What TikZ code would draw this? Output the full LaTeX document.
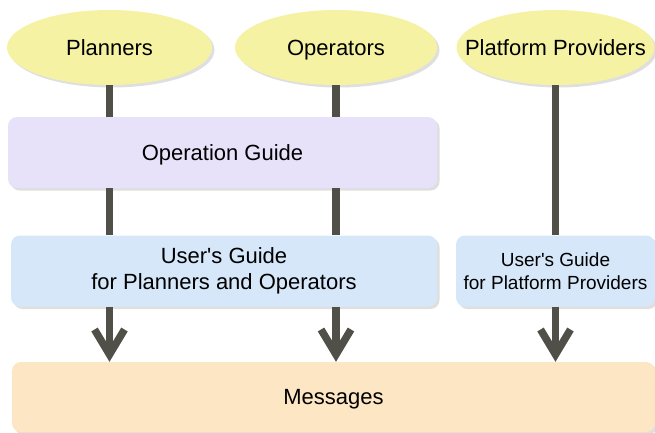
\documentclass[tikz,border=0pt]{standalone}
\usepackage{fontspec}
\setmainfont{Liberation Sans}[Ligatures=TeXOff]
\usetikzlibrary{shapes.geometric,shadows,arrows.meta}
\definecolor{ellfill}{RGB}{245,242,163}
\definecolor{opfill}{RGB}{231,226,250}
\definecolor{ugfill}{RGB}{213,231,248}
\definecolor{msgfill}{RGB}{253,230,196}
\definecolor{conn}{RGB}{80,80,72}
\begin{document}
\begin{tikzpicture}[x=1pt,y=1pt,
  shadowed/.style={drop shadow={shadow xshift=2.5pt,shadow yshift=-2.5pt,fill=black!25}},
  actor/.style={ellipse,fill=ellfill,minimum height=75pt,inner sep=0pt,
    text height=15.75pt,text depth=0pt,
    font=\fontsize{22}{26}\selectfont,shadowed},
  docbox/.style={rectangle,rounded corners=9pt,minimum height=71pt,inner sep=0pt,
    align=center,font=\fontsize{22}{26}\selectfont,shadowed},
  link/.style={draw=conn,line width=7.5pt},
  flow/.style={link,-{Straight Barb[length=25pt,width=30pt]}}
]
\useasboundingbox (0,0) rectangle (655,-432);

\node[actor,minimum width=205pt] (pl) at (109.5,-47.5) {\makebox[0pt]{Planners}};
\node[actor,minimum width=202pt] (op) at (336,-47.5) {\makebox[0pt]{Operators}};
\node[actor,minimum width=198pt] (pp) at (555.5,-47.5) {\makebox[0pt]{Platform Providers}};

\node[docbox,fill=opfill,minimum width=429pt,text height=15.75pt,text depth=0pt] (og) at (222.5,-152.5) {Operation Guide};
\node[docbox,fill=ugfill,minimum width=426pt] (ug1) at (224,-271) {User's Guide\\for Planners and Operators};
\node[docbox,fill=ugfill,minimum width=199pt,font=\fontsize{19}{23}\selectfont] (ug2) at (555.5,-271) {User's Guide\\for Platform Providers};
\node[docbox,fill=msgfill,minimum width=643pt,minimum height=70pt,text height=15.75pt,text depth=0pt] (msg) at (333.5,-397) {Messages};

\draw[link] (pl.south) -- (pl.south |- og.north);
\draw[link] (op.south) -- (op.south |- og.north);
\draw[link] (pl.south |- og.south) -- (pl.south |- ug1.north);
\draw[link] (op.south |- og.south) -- (op.south |- ug1.north);
\draw[link] (pp.south) -- (pp.south |- ug2.north);

\draw[flow] (pl.south |- ug1.south) -- (pl.south |- msg.north);
\draw[flow] (op.south |- ug1.south) -- (op.south |- msg.north);
\draw[flow] (pp.south |- ug2.south) -- (pp.south |- msg.north);
\end{tikzpicture}
\end{document}
